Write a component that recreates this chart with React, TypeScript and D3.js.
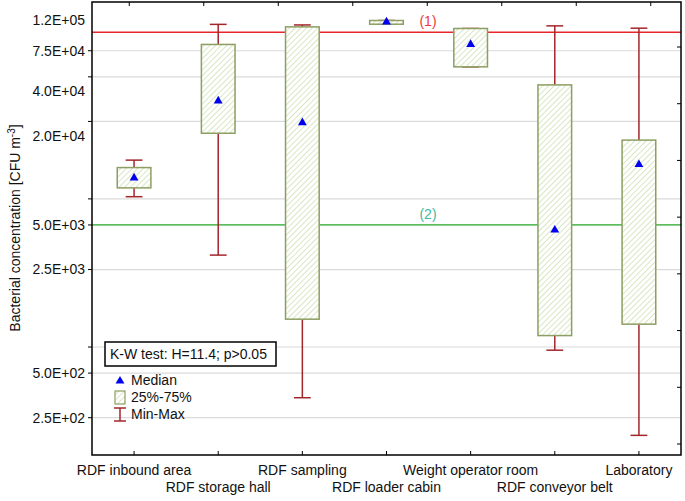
import * as d3 from "d3";

const categories = [
  "RDF inbound area",
  "RDF storage hall",
  "RDF sampling",
  "RDF loader cabin",
  "Weight operator room",
  "RDF conveyor belt",
  "Laboratory",
];
const minVals = [7760, 3130, 341, 113300, 58400, 714, 190];
const q1Vals = [8900, 20800, 1156, 113300, 58400, 896, 1070];
const medianVals = [10400, 34400, 24500, 117500, 82700, 4620, 12800];
const q3Vals = [12200, 82700, 108700, 120000, 106000, 44100, 18700];
const maxVals = [13700, 113000, 112000, 120000, 106000, 110400, 106500];

const tickLabelVals = [120000, 75000, 40000, 20000, 5000, 2500, 500, 250];
const gridVals = [75000, 50000, 25000, 7500, 5000, 2500, 750, 500, 250];
const limitVals = [100000, 5000];
const limitLabels = ["(1)", "(2)"];
const frameTickIds = ["a", "b", "c", "d", "e", "f", "g", "h"];

const W = 685, H = 501;
const left = 92, right = 681, top = 2, bottom = 455;
const font = "'Liberation Sans', Arial, sans-serif";

const fmtE = (v: number) => {
  const [m, e] = v.toExponential(1).split("e");
  const sign = e[0] === "-" ? "-" : "+";
  const digits = e.replace(/[+-]/, "").padStart(2, "0");
  return `${m}E${sign}${digits}`;
};

export default function App() {
  const x = d3.scaleBand<string>().domain(categories).range([left, right]).padding(0);
  const y = d3.scaleLog().domain([140, 160000]).range([bottom, top]);
  const topTicks = d3.scaleBand<string>().domain(frameTickIds).range([left, 688]);
  const rightTicks = d3.scalePoint<string>().domain(frameTickIds).range([47, 444]);
  const boxW = x.bandwidth() * 0.4;
  const capW = x.bandwidth() * 0.2;
  const tri = d3.symbol().type(d3.symbolTriangle).size(34)();
  const whisk = "#a3262b";
  const boxStroke = "#8d9e62";
  const limitColors = ["#e8262b", "#2fb02f"];
  const limitText = ["#f03a3a", "#45b8a0"];

  return (
    <svg width={W} height={H} style={{ position: "absolute", left: 0, top: 0, background: "#fff" }} fontFamily={font}>
      <defs>
        <pattern id="hatch" patternUnits="userSpaceOnUse" width={4} height={4} patternTransform="rotate(45)">
          <rect width={4} height={4} fill="#fff" />
          <line x1={0} y1={0} x2={0} y2={4} stroke="#c3d9a3" strokeWidth={1.3} />
        </pattern>
      </defs>

      {/* gridlines */}
      {gridVals.map((v) => (
        <line key={v} x1={left} x2={right} y1={y(v)} y2={y(v)} stroke="#dadada" strokeWidth={1.2} />
      ))}

      {/* reference limits */}
      {limitVals.map((v, i) => (
        <g key={v}>
          <line x1={left} x2={right} y1={y(v)} y2={y(v)} stroke={limitColors[i]} strokeWidth={1.3} />
          <text x={428} y={y(v) - 6} textAnchor="middle" fontSize={14} fill={limitText[i]}>
            {limitLabels[i]}
          </text>
        </g>
      ))}

      {/* whiskers + boxes */}
      {categories.map((c, i) => {
        const cx = x(c)! + x.bandwidth() / 2;
        return (
          <g key={c}>
            <line x1={cx} x2={cx} y1={y(maxVals[i])} y2={y(minVals[i])} stroke={whisk} strokeWidth={1.5} />
            <line x1={cx - capW / 2} x2={cx + capW / 2} y1={y(maxVals[i])} y2={y(maxVals[i])} stroke={whisk} strokeWidth={1.5} />
            <line x1={cx - capW / 2} x2={cx + capW / 2} y1={y(minVals[i])} y2={y(minVals[i])} stroke={whisk} strokeWidth={1.5} />
            <rect
              x={cx - boxW / 2}
              y={y(q3Vals[i])}
              width={boxW}
              height={Math.max(3.5, y(q1Vals[i]) - y(q3Vals[i]))}
              fill="url(#hatch)"
              stroke={boxStroke}
              strokeWidth={1.5}
            />
            <path d={tri!} transform={`translate(${cx},${y(medianVals[i])})`} fill="#0000ee" />
          </g>
        );
      })}

      {/* frame */}
      <rect x={left} y={top} width={right - left} height={bottom - top} fill="none" stroke="#000" strokeWidth={1.5} />

      {/* left axis ticks + labels */}
      {gridVals.map((v) => (
        <line key={v} x1={left - 4} x2={left} y1={y(v)} y2={y(v)} stroke="#000" strokeWidth={1} />
      ))}
      {tickLabelVals.map((v) => (
        <text key={v} x={85} y={y(v)} dy="0.35em" textAnchor="end" fontSize={14} fill="#111">
          {fmtE(v)}
        </text>
      ))}

      {/* top / right / bottom frame ticks */}
      {frameTickIds.map((id) => (
        <line key={"t" + id} x1={topTicks(id)! + topTicks.bandwidth() / 2} x2={topTicks(id)! + topTicks.bandwidth() / 2} y1={top} y2={top + 4} stroke="#000" />
      ))}
      {frameTickIds.map((id) => (
        <line key={"r" + id} x1={right - 4} x2={right} y1={rightTicks(id)} y2={rightTicks(id)} stroke="#000" />
      ))}
      {categories.map((c) => {
        const cx = x(c)! + x.bandwidth() / 2;
        return <line key={"b" + c} x1={cx} x2={cx} y1={bottom - 4} y2={bottom} stroke="#000" />;
      })}

      {/* x labels, staggered */}
      {categories.map((c, i) => (
        <text key={"l" + c} x={x(c)! + x.bandwidth() / 2} y={i % 2 === 0 ? 475 : 492} textAnchor="middle" fontSize={14} fill="#111">
          {c}
        </text>
      ))}

      {/* y title */}
      <text transform="translate(20,228) rotate(-90)" textAnchor="middle" fontSize={14} fill="#111">
        Bacterial concentration [CFU m<tspan dy={-5} fontSize={10}>-3</tspan>
        <tspan dy={5}>]</tspan>
      </text>

      {/* K-W test box */}
      <rect x={105} y={342} width={171} height={24} fill="#fff" stroke="#000" strokeWidth={1.5} />
      <text x={110} y={354} dy="0.35em" fontSize={14} fill="#111">
        K-W test: H=11.4; p&gt;0.05
      </text>

      {/* legend */}
      <path d={tri!} transform="translate(120,381)" fill="#0000ee" />
      <text x={131} y={380} dy="0.35em" fontSize={14} fill="#111">Median</text>
      <rect x={115} y={391} width={10} height={13} fill="url(#hatch)" stroke={boxStroke} strokeWidth={1.2} />
      <text x={131} y={397} dy="0.35em" fontSize={14} fill="#111">25%-75%</text>
      <line x1={120} x2={120} y1={408} y2={421} stroke={whisk} strokeWidth={1.5} />
      <line x1={114} x2={126} y1={408} y2={408} stroke={whisk} strokeWidth={1.5} />
      <line x1={114} x2={126} y1={421} y2={421} stroke={whisk} strokeWidth={1.5} />
      <text x={131} y={414} dy="0.35em" fontSize={14} fill="#111">Min-Max</text>
    </svg>
  );
}
